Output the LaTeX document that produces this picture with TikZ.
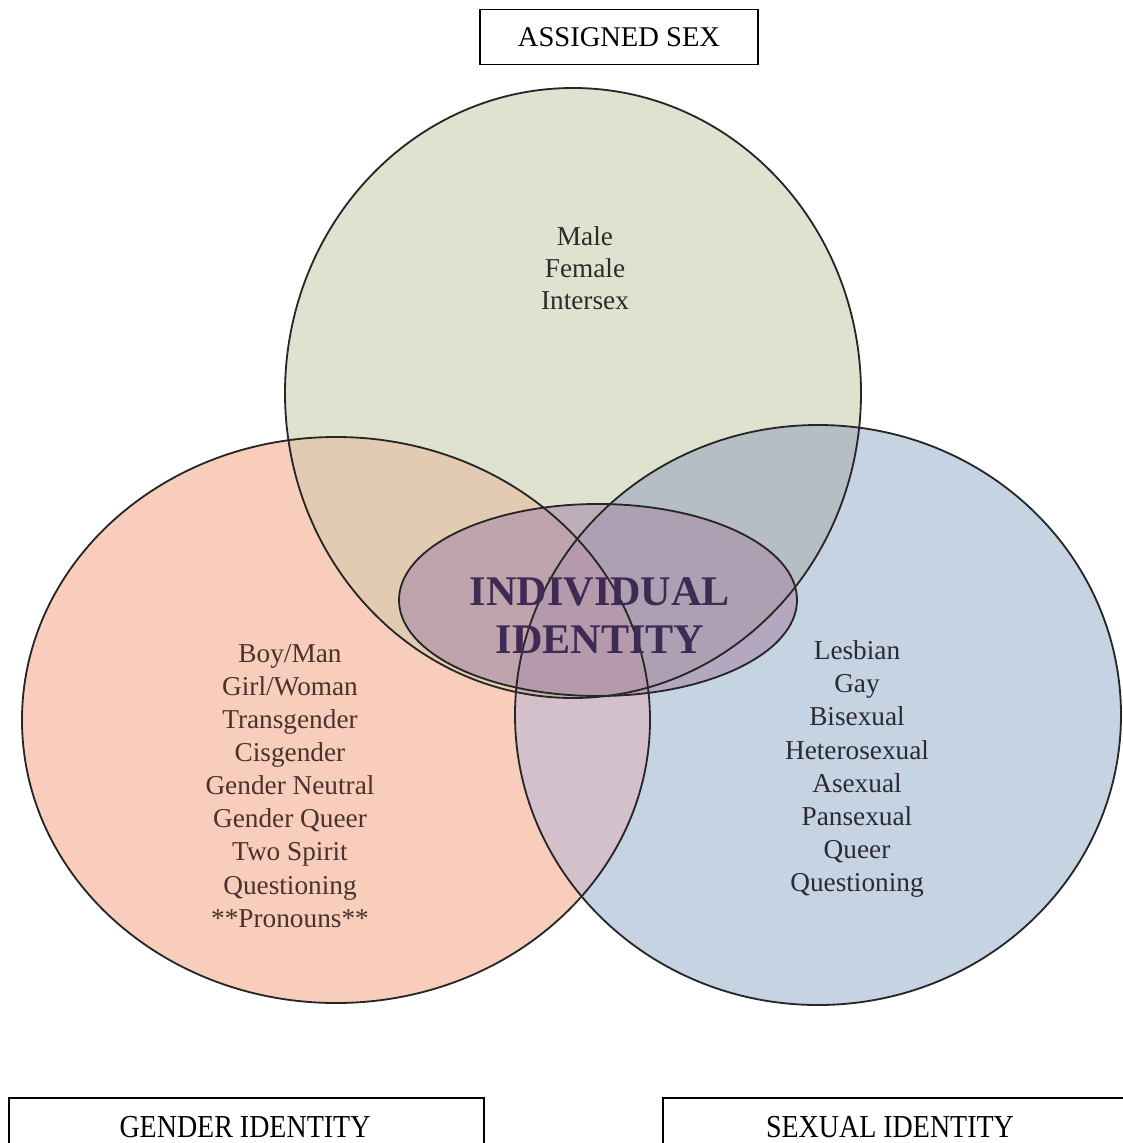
\documentclass[tikz,border=0pt]{standalone}
\usepackage{fontspec}
\setmainfont{Liberation Serif}
\definecolor{cA}{HTML}{DFE2CF}
\definecolor{cB}{HTML}{F8CDBB}
\definecolor{cC}{HTML}{C6D3E2}
\definecolor{cAB}{HTML}{E3CAB3}
\definecolor{cAC}{HTML}{B5BEC2}
\definecolor{cBC}{HTML}{D3C0CB}
\definecolor{cABC}{HTML}{C9AFB0}
\definecolor{cE}{HTML}{A88CAA}
\definecolor{cOut}{HTML}{262626}
\definecolor{tTop}{HTML}{2B2B2B}
\definecolor{tLeft}{HTML}{4A322D}
\definecolor{tRight}{HTML}{2A2A32}
\definecolor{tMid}{HTML}{3E2A55}
\begin{document}
\begin{tikzpicture}[x=0.025cm,y=-0.025cm,
  outline/.style={draw=cOut,line width=1.3pt},
  listtxt/.style={align=center,inner sep=0pt,font=\fontsize{19.4}{23.5}\selectfont},
  boxlabel/.style={draw=black,line width=1.3pt,inner sep=0pt},
  boxtxt/.style={inner sep=0pt,font=\fontsize{20.3}{22}\selectfont}]
\useasboundingbox (0,0) rectangle (1123,1143);
\fill[white] (0,0) rectangle (1123,1143);
\begin{scope}
\clip (0,0) rectangle (1123,1143);
% base fills
\fill[cA] (573,393) ellipse [x radius=288, y radius=305];
\fill[cB] (336,720) ellipse [x radius=314, y radius=283];
\fill[cC] (818,715) ellipse [x radius=303, y radius=290];
% pairwise overlaps
\begin{scope}
\clip (573,393) ellipse [x radius=288, y radius=305];
\fill[cAB] (336,720) ellipse [x radius=314, y radius=283];
\end{scope}
\begin{scope}
\clip (573,393) ellipse [x radius=288, y radius=305];
\fill[cAC] (818,715) ellipse [x radius=303, y radius=290];
\end{scope}
\begin{scope}
\clip (336,720) ellipse [x radius=314, y radius=283];
\fill[cBC] (818,715) ellipse [x radius=303, y radius=290];
\end{scope}
\begin{scope}
\clip (573,393) ellipse [x radius=288, y radius=305];
\clip (336,720) ellipse [x radius=314, y radius=283];
\fill[cABC] (818,715) ellipse [x radius=303, y radius=290];
\end{scope}
% centre ellipse
\fill[cE,opacity=0.6] (598,600) ellipse [x radius=199, y radius=96];
% outlines
\draw[outline] (573,393) ellipse [x radius=288, y radius=305];
\draw[outline] (336,720) ellipse [x radius=314, y radius=283];
\draw[outline] (818,715) ellipse [x radius=303, y radius=290];
\draw[outline] (598,600) ellipse [x radius=199, y radius=96];
% texts
\node[listtxt,text=tTop,font=\fontsize{19.4}{22.8}\selectfont] (sexlist) at (585,268) {Male\\Female\\Intersex};
\node[listtxt,text=tLeft] (genderlist) at (290,786) {Boy/Man\\Girl/Woman\\Transgender\\Cisgender\\Gender Neutral\\Gender Queer\\Two Spirit\\Questioning\\**Pronouns**};
\node[listtxt,text=tRight] (sexuallist) at (857,769) {Lesbian\\Gay\\Bisexual\\Heterosexual\\Asexual\\Pansexual\\Queer\\Questioning};
\node[align=center,inner sep=0pt,text=tMid,font=\fontsize{30}{34}\selectfont\bfseries] (individual) at (600,616) {INDIVIDUAL\\IDENTITY};
% boxes
\node[boxlabel,minimum width=6.95cm,minimum height=1.375cm,boxtxt] (assigned) at (619,37) {ASSIGNED SEX};
\node[boxlabel,anchor=north west,minimum width=11.875cm,minimum height=3cm] (genderbox) at (8,1097) {};
\node[boxtxt] (gendertxt) at (245,1127) {\scalebox{0.98}[1.12]{GENDER IDENTITY}};
\node[boxlabel,anchor=north west,minimum width=13.45cm,minimum height=3cm] (sexualbox) at (662,1097) {};
\node[boxtxt] (sexualtxt) at (890,1127) {\scalebox{0.98}[1.12]{SEXUAL IDENTITY}};
\end{scope}
\end{tikzpicture}
\end{document}
